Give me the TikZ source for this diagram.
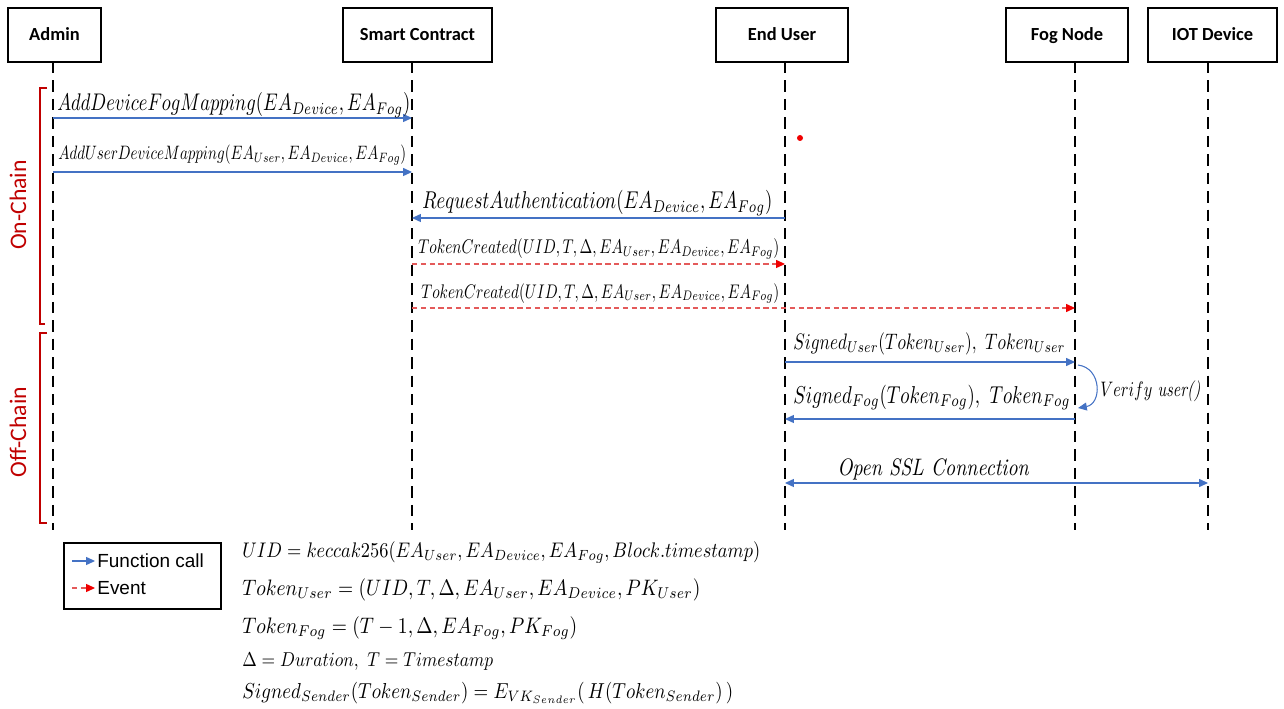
\documentclass[tikz,border=0pt]{standalone}
\usepackage{fontspec}
\usepackage{graphicx}
\usetikzlibrary{arrows.meta}
\newfontfamily\hdrfont{Carlito}
\newfontfamily\arialfont{Liberation Sans}
\definecolor{fblue}{HTML}{4472C4}
\definecolor{ered}{HTML}{E45A5A}
\definecolor{tipred}{HTML}{F00000}
\definecolor{bred}{HTML}{C00000}
\newcommand{\fw}[2]{\scalebox{1}[1.3]{\resizebox{#1}{!}{#2}}}
\newcommand{\fe}[2]{\scalebox{1}[1.15]{\resizebox{#1}{!}{#2}}}
\begin{document}
\begin{tikzpicture}[x=0.02cm,y=-0.02cm,
  actor/.style={draw,line width=1.1pt,minimum height=1.08cm,inner sep=0pt,text height=1.6ex,text depth=0.2ex,font=\hdrfont\bfseries\fontsize{10.5}{12}\selectfont},
  life/.style={line width=1.1pt,dash pattern=on 6.5pt off 4pt},
  fcall/.style={fblue,line width=0.6pt,-{Triangle[length=5pt,width=4.5pt]}},
  fboth/.style={fblue,line width=0.6pt,{Triangle[length=5pt,width=4.5pt]}-{Triangle[length=5pt,width=4.5pt]}},
  event/.style={ered,line width=0.6pt,dash pattern=on 3pt off 2pt,-{Triangle[length=5pt,width=4.5pt,color=tipred]}},
  lbl/.style={inner sep=0pt,anchor=base west},
  bracket/.style={bred,line width=1.7pt},
  chain/.style={bred,rotate=90,font=\hdrfont\fontsize{13.5}{15}\selectfont},
  legtxt/.style={anchor=west,inner sep=0pt,font=\arialfont\fontsize{10.8}{12}\selectfont}]
\useasboundingbox (0,0) rectangle (1284,709);

% actors
\node[actor,minimum width=1.86cm] (admin) at (54.5,35) {Admin};
\node[actor,minimum width=2.98cm] (sc) at (417.5,35) {Smart Contract};
\node[actor,minimum width=2.64cm] (eu) at (782,35) {End User};
\node[actor,minimum width=2.44cm] (fog) at (1067,35) {Fog Node};
\node[actor,minimum width=2.58cm] (iot) at (1212.5,35) {IOT Device};

% lifelines
\coordinate (aT) at (53,62);   \coordinate (aB) at (53,530);
\coordinate (sT) at (412,62);  \coordinate (sB) at (412,530);
\coordinate (eT) at (785,62);  \coordinate (eB) at (785,530);
\coordinate (fT) at (1075,62); \coordinate (fB) at (1075,530);
\coordinate (iT) at (1208,62); \coordinate (iB) at (1208,530);
\draw[life] (aT) -- (aB);
\draw[life] (sT) -- (sB);
\draw[life] (eT) -- (eB);
\draw[life] (fT) -- (fB);
\draw[life] (iT) -- (iB);

% brackets
\draw[bracket] (47,88) -- (40,88) -- (40,324) -- (45,324);
\draw[bracket] (47,333) -- (40,333) -- (40,523) -- (47,523);
\node[chain] (on) at (18,205) {On-Chain};
\node[chain] (off) at (18,432) {Off-Chain};

% message 1
\coordinate (m1a) at (53,118); \coordinate (m1b) at (412,118);
\draw[fcall] (m1a) -- (m1b);
\node[lbl] (l1) at (57,111) {\fw{7.06cm}{$AddDeviceFogMapping(EA_{Device},EA_{Fog})$}};
% message 2
\coordinate (m2a) at (53,172); \coordinate (m2b) at (412,172);
\draw[fcall] (m2a) -- (m2b);
\node[lbl] (l2) at (58,160) {\fw{6.96cm}{$AddUserDeviceMapping(EA_{User},EA_{Device},EA_{Fog})$}};
% message 3
\coordinate (m3a) at (785,218); \coordinate (m3b) at (412,218);
\draw[fcall] (m3a) -- (m3b);
\node[lbl] (l3) at (422,209) {\fw{7.0cm}{$RequestAuthentication(EA_{Device},EA_{Fog})$}};
% message 4
\coordinate (m4a) at (412,264); \coordinate (m4b) at (785,264);
\draw[event] (m4a) -- (m4b);
\node[lbl] (l4) at (418,254) {\fw{7.22cm}{$TokenCreated(UID,T,\Delta,EA_{User},EA_{Device},EA_{Fog})$}};
% message 5
\coordinate (m5a) at (412,308); \coordinate (m5b) at (1075,308);
\draw[event] (m5a) -- (m5b);
\node[lbl] (l5) at (421,298) {\fw{7.16cm}{$TokenCreated(UID,T,\Delta,EA_{User},EA_{Device},EA_{Fog})$}};
% message 6
\coordinate (m6a) at (785,362); \coordinate (m6b) at (1075,362);
\draw[fcall] (m6a) -- (m6b);
\node[lbl] (l6) at (793,349) {\fw{5.44cm}{$Signed_{User}(Token_{User}),\ Token_{User}$}};
% self call
\coordinate (v1) at (1078,365); \coordinate (v2) at (1078,408);
\draw[fcall] (v1) .. controls (1102,368) and (1102,404) .. (v2);
\node[lbl] (l8) at (1100,396) {\fw{2.0cm}{$Verify$ \textit{user()}}};
% message 7
\coordinate (m7a) at (1075,419); \coordinate (m7b) at (785,419);
\draw[fcall] (m7a) -- (m7b);
\node[lbl] (l7) at (793,403) {\fw{5.54cm}{$Signed_{Fog}(Token_{Fog}),\ Token_{Fog}$}};
% message 8
\coordinate (m8a) at (785,483); \coordinate (m8b) at (1208,483);
\draw[fboth] (m8a) -- (m8b);
\node[lbl] (l9) at (837,475) {\scalebox{1}[1.2]{\resizebox{3.84cm}{!}{\textit{Open SSL Connection}}}};

% red dot
\fill[tipred] (800,138) circle (3);

% legend
\node[draw,line width=1.1pt,minimum width=3.14cm,minimum height=1.32cm,inner sep=0pt] (leg) at (142.5,576) {};
\coordinate (lg1a) at (72,561); \coordinate (lg1b) at (95,561);
\draw[fcall] (lg1a) -- (lg1b);
\node[legtxt] (lt1) at (97,561) {Function call};
\coordinate (lg2a) at (72,588); \coordinate (lg2b) at (95,588);
\draw[event] (lg2a) -- (lg2b);
\node[legtxt] (lt2) at (97,588) {Event};

% equations
\node[lbl] (e1) at (242,557) {\fe{10.36cm}{$UID=keccak256(EA_{User},EA_{Device},EA_{Fog},Block.timestamp)$}};
\node[lbl] (e2) at (242,595) {\fe{9.16cm}{$Token_{User}=(UID,T,\Delta,EA_{User},EA_{Device},PK_{User})$}};
\node[lbl] (e3) at (242,633) {\fe{6.7cm}{$Token_{Fog}=(T-1,\Delta,EA_{Fog},PK_{Fog})$}};
\node[lbl] (e4) at (242,666) {\fe{5.02cm}{$\Delta=Duration,\ T=Timestamp$}};
\node[lbl] (e5) at (242,698) {\fe{9.82cm}{$Signed_{Sender}(Token_{Sender})=E_{VK_{Sender}}(\,H(Token_{Sender})\,)$}};
\end{tikzpicture}
\end{document}
